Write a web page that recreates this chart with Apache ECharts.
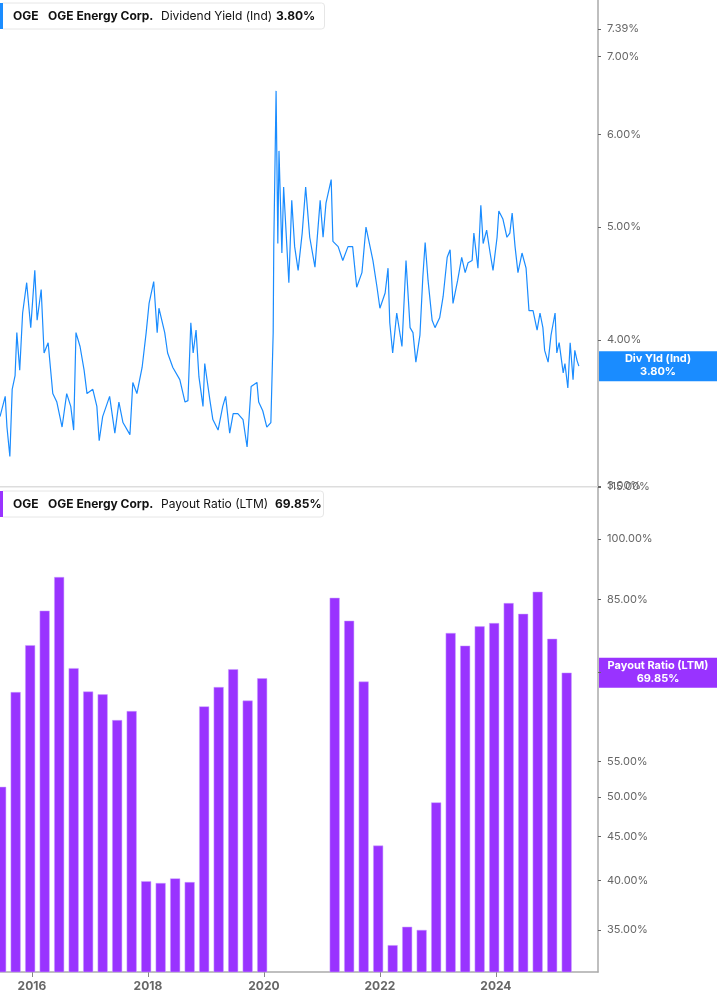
<!DOCTYPE html>
<html>
<head>
<meta charset="utf-8">
<script src="https://cdn.jsdelivr.net/npm/echarts@6/dist/echarts.min.js"></script>
<style>
  html, body { margin: 0; padding: 0; background: #fff; }
  #chart { width: 717px; height: 1005px; }
</style>
</head>
<body>
<div id="chart"></div>
<script>
// ---- data ----
// dividend yield (%), [year, value]
const yieldPts = [
  [2015.45,3.44],[2015.54,3.58],[2015.57,3.37],[2015.62,3.18],[2015.66,3.63],[2015.71,3.73],[2015.74,4.06],
  [2015.79,3.77],[2015.84,4.22],[2015.91,4.48],[2015.98,4.10],[2016.05,4.59],[2016.09,4.16],[2016.16,4.42],
  [2016.21,3.90],[2016.28,3.98],[2016.36,3.60],[2016.43,3.54],[2016.52,3.37],[2016.60,3.60],[2016.67,3.51],
  [2016.72,3.35],[2016.76,4.06],[2016.83,3.95],[2016.90,3.77],[2016.95,3.60],[2017.05,3.63],[2017.12,3.51],
  [2017.16,3.28],[2017.22,3.44],[2017.34,3.58],[2017.43,3.33],[2017.50,3.54],[2017.57,3.40],[2017.69,3.32],
  [2017.74,3.68],[2017.81,3.60],[2017.90,3.79],[2017.97,4.06],[2018.02,4.30],[2018.10,4.49],[2018.16,4.06],
  [2018.19,4.26],[2018.29,4.06],[2018.34,3.90],[2018.43,3.79],[2018.55,3.70],[2018.64,3.54],[2018.69,3.55],
  [2018.74,4.14],[2018.78,3.90],[2018.83,4.08],[2018.88,3.72],[2018.95,3.51],[2018.98,3.82],[2019.07,3.55],
  [2019.12,3.42],[2019.21,3.35],[2019.29,3.51],[2019.34,3.58],[2019.41,3.33],[2019.47,3.46],[2019.55,3.46],
  [2019.64,3.42],[2019.71,3.24],[2019.78,3.65],[2019.88,3.68],[2019.91,3.54],[2019.98,3.48],[2020.05,3.37],
  [2020.12,3.40],[2020.16,4.06],[2020.17,4.81],[2020.21,6.54],[2020.24,4.84],[2020.26,5.81],[2020.31,4.75],
  [2020.34,5.41],[2020.43,4.48],[2020.48,5.27],[2020.53,4.81],[2020.59,4.59],[2020.66,4.94],[2020.72,5.41],
  [2020.79,4.90],[2020.88,4.62],[2020.97,5.27],[2021.02,4.90],[2021.07,5.24],[2021.16,5.49],[2021.19,4.86],
  [2021.28,4.81],[2021.36,4.68],[2021.45,4.81],[2021.53,4.81],[2021.60,4.44],[2021.69,4.57],[2021.76,5.00],
  [2021.83,4.81],[2021.88,4.68],[2021.95,4.44],[2022.00,4.26],[2022.09,4.39],[2022.14,4.61],[2022.17,4.14],
  [2022.22,3.90],[2022.29,4.22],[2022.38,3.95],[2022.45,4.68],[2022.52,4.10],[2022.57,4.06],[2022.62,3.83],
  [2022.69,4.04],[2022.74,4.53],[2022.78,4.85],[2022.83,4.50],[2022.90,4.16],[2022.95,4.10],[2023.03,4.18],
  [2023.09,4.36],[2023.16,4.71],[2023.21,4.78],[2023.26,4.30],[2023.34,4.50],[2023.41,4.71],[2023.47,4.57],
  [2023.52,4.66],[2023.59,4.68],[2023.62,4.94],[2023.69,4.61],[2023.74,5.22],[2023.78,4.84],[2023.84,4.97],
  [2023.90,4.75],[2023.95,4.59],[2024.02,4.90],[2024.05,5.16],[2024.12,5.08],[2024.19,4.90],[2024.24,4.94],
  [2024.28,5.14],[2024.33,4.81],[2024.38,4.57],[2024.45,4.75],[2024.52,4.61],[2024.57,4.24],[2024.64,4.24],
  [2024.71,4.08],[2024.76,4.22],[2024.81,4.10],[2024.84,3.92],[2024.90,3.83],[2024.95,4.04],[2025.02,4.22],
  [2025.05,3.90],[2025.09,3.98],[2025.16,3.75],[2025.19,3.82],[2025.24,3.64],[2025.28,3.98],[2025.33,3.70],
  [2025.36,3.92],[2025.40,3.84],[2025.43,3.80]
];
// payout ratio LTM (%), quarterly from 2015.47, null = no value
const payoutStart = 2015.47;
const payoutVals = [
  51.4, 66.3, 75.2, 82.5, 90.3, 70.7, 66.4, 65.9, 61.5, 63.0,
  39.9, 39.7, 40.2, 39.8, 63.8, 67.2, 70.5, 64.8, 68.8,
  null, null, null, null,
  85.4, 80.3, 68.2, 43.9, 33.6, 35.3, 35.0, 49.3, 77.7, 75.1,
  79.1, 79.8, 84.2, 81.8, 86.8, 76.5, 69.85
];
const yearTicks = [2016, 2018, 2020, 2022, 2024];
const yieldTicks = [3, 4, 5, 6, 7, 7.39];
const payoutTicks = [35, 40, 45, 50, 55, 70, 85, 100, 115];
const payoutLabels = [35, 40, 45, 50, 55, 85, 100, 115]; // 70% sits under the value tag
const lastYield = 3.80, lastPayout = 69.85;

const BLUE = '#1a8cff', PURPLE = '#9933ff';
const FONT = 'Inter, "Noto Sans", sans-serif';
const chart = echarts.init(document.getElementById('chart'), null, { renderer: 'canvas' });

const xMin = 2015.45, xMax = 2025.76;
const ln = Math.log;

function xAxis(idx, show) {
  return {
    type: 'value', gridIndex: idx, min: xMin, max: xMax,
    splitLine: { show: false },
    axisLine: { show: true, onZero: false, lineStyle: { color: show ? '#aaa' : '#ddd', width: show ? 1.5 : 1 } },
    axisTick: { show: show, customValues: yearTicks, length: 5, lineStyle: { color: '#888' } },
    axisLabel: { show: show, customValues: yearTicks, color: '#666', fontWeight: 'bold', fontSize: 12, fontFamily: FONT,
      formatter: v => String(Math.round(v)) }
  };
}
function yAxis(idx, min, max, ticks, labels) {
  return {
    type: 'value', gridIndex: idx, position: 'right', min: min, max: max,
    splitLine: { show: false },
    axisLine: { show: true, lineStyle: { color: '#aaa', width: 1.5 } },
    axisTick: { show: true, customValues: ticks.map(ln), length: 3, lineStyle: { color: '#666' } },
    axisLabel: { customValues: labels.map(ln), color: '#666', fontSize: 11, fontFamily: FONT, margin: 9,
      formatter: v => Math.exp(v).toFixed(2) + '%' }
  };
}

const barData = payoutVals.map((v, i) => [payoutStart + 0.25 * i, v == null ? null : ln(v)]);

chart.setOption({
  animation: false,
  grid: [
    { left: 0, right: 119, top: 0, height: 486 },
    { left: 0, right: 119, top: 487, height: 485 }
  ],
  xAxis: [xAxis(0, false), xAxis(1, true)],
  yAxis: [
    yAxis(0, ln(3), ln(3) + 486 / 507, yieldTicks, yieldTicks),
    yAxis(1, ln(35) - 42 / 372, ln(115), payoutTicks, payoutLabels)
  ],
  series: [
    { type: 'line', xAxisIndex: 0, yAxisIndex: 0, data: yieldPts.map(p => [p[0], ln(p[1])]),
      showSymbol: false, lineStyle: { color: BLUE, width: 1.2 }, clip: true },
    { type: 'bar', xAxisIndex: 1, yAxisIndex: 1, data: barData, barWidth: 10,
      itemStyle: { color: PURPLE, borderColor: '#c9a0ff', borderWidth: 0.5 }, clip: true }
  ]
});

// legend boxes and last-value tags
function legendBox(y, color, name, val, valX) {
  return [
    { type: 'rect', shape: { x: 0.5, y: y, width: valX + 48, height: 26, r: 3 },
      style: { fill: '#fff', stroke: '#e6e6e6' } },
    { type: 'rect', shape: { x: 0, y: y, width: 3, height: 26 }, style: { fill: color } },
    { type: 'text', x: 13, y: y + 13, style: { text: 'OGE', font: 'bold 12px ' + FONT, fill: '#111', verticalAlign: 'middle' } },
    { type: 'text', x: 48, y: y + 13, style: { text: 'OGE Energy Corp.', font: 'bold 12px ' + FONT, fill: '#111', verticalAlign: 'middle' } },
    { type: 'text', x: 161, y: y + 13, style: { text: name, font: '12px ' + FONT, fill: '#111', verticalAlign: 'middle' } },
    { type: 'text', x: valX, y: y + 13, style: { text: val, font: 'bold 12px ' + FONT, fill: '#111', verticalAlign: 'middle' } }
  ];
}
function tag(yPix, color, l1, l2) {
  return [
    { type: 'rect', shape: { x: 599, y: yPix - 15, width: 118, height: 30 }, style: { fill: color } },
    { type: 'text', x: 658, y: yPix - 7, style: { text: l1, font: 'bold 11px ' + FONT, fill: '#fff', align: 'center', verticalAlign: 'middle' } },
    { type: 'text', x: 658, y: yPix + 6, style: { text: l2, font: 'bold 11px ' + FONT, fill: '#fff', align: 'center', verticalAlign: 'middle' } }
  ];
}
const y1 = chart.convertToPixel({ gridIndex: 0 }, [xMax, ln(lastYield)])[1];
const y2 = chart.convertToPixel({ gridIndex: 1 }, [xMax, ln(lastPayout)])[1];
chart.setOption({
  graphic: [{
    type: 'group', z: 100,
    children: [
      { type: 'line', shape: { x1: 0, y1: 487, x2: 598, y2: 487 }, style: { stroke: '#ddd' } },
      ...legendBox(3, BLUE, 'Dividend Yield (Ind)', '3.80%', 276),
      ...legendBox(491, PURPLE, 'Payout Ratio (LTM)', '69.85%', 275),
      ...tag(y1, BLUE, 'Div Yld (Ind)', '3.80%'),
      ...tag(y2, PURPLE, 'Payout Ratio (LTM)', '69.85%')
    ]
  }]
});
</script>
</body>
</html>
